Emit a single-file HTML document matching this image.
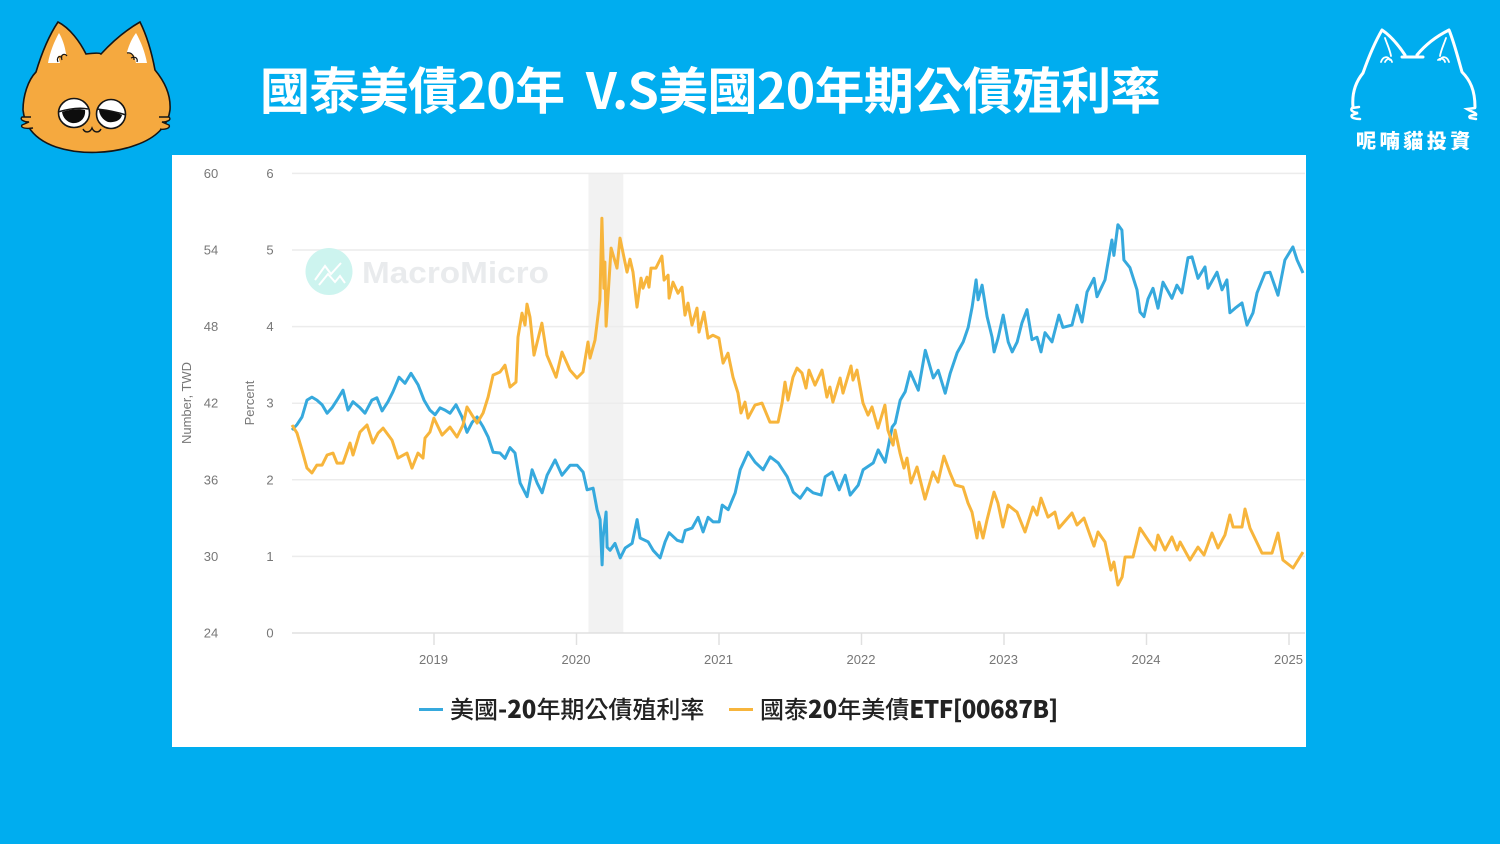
<!DOCTYPE html>
<html lang="zh-Hant">
<head>
<meta charset="utf-8">
<title>國泰美債20年 V.S美國20年期公債殖利率</title>
<style>
html,body{margin:0;padding:0;}
body{width:1500px;height:844px;overflow:hidden;background:#00adef;position:relative;font-family:"Liberation Sans","Noto Sans CJK TC",sans-serif;}
#panel{position:absolute;left:172px;top:155px;width:1134px;height:592px;background:#fff;}
#chart{position:absolute;left:0;top:0;}
#title{position:absolute;left:260px;top:52px;white-space:pre;color:#fff;font:700 50px/72px "Noto Sans CJK TC",sans-serif;letter-spacing:-0.65px;}
.legend{position:absolute;top:691px;height:34px;font:500 24px/34px "Noto Sans CJK TC",sans-serif;color:#222;white-space:pre;}
.legend b{font-weight:900;}
.legend b.tight{letter-spacing:-0.5px;}
.swatch{position:absolute;top:708px;height:3px;width:24px;}
#brand{position:absolute;left:1356px;top:125px;color:#fff;font:900 20px/30px "Noto Sans CJK TC",sans-serif;letter-spacing:3.6px;white-space:pre;}
</style>
</head>
<body>
<svg style="position:absolute;left:0;top:0" width="200" height="160" viewBox="0 0 200 160">
  <path d="M36 72C42 52 50 34 58 22C70 28 80 42 86 54C94 53 100 53 101 54C112 42 126 30 140 22C147 36 152 54 155 70C165 82 171 96 170 110C168 126 156 138 136 145C112 154 80 155 56 147C36 140 25 128 23 110C23 96 28 80 36 72Z" fill="#f5a93f" stroke="#151515" stroke-width="1.6"/>
  <path d="M59 33C54 42 50 52 48 63L60 63L58 56L66 54C65 46 62 38 59 33Z" fill="#fff"/>
  <path d="M136 33C141 42 145 52 147 63L136 63L134 55L127 52C129 45 132 38 136 33Z" fill="#fff"/>
  <path d="M58 62C56 57 60 55 62 58M62 60C60 54 65 53 67 56M127 53C131 52 134 55 134 60M131 58C135 56 138 58 137 62" fill="none" stroke="#151515" stroke-width="1.2"/>
  <ellipse cx="74" cy="113" rx="15.500" ry="14.500" fill="#fff" stroke="#151515" stroke-width="1.6"/>
  <ellipse cx="111" cy="114" rx="14.500" ry="14.500" fill="#fff" stroke="#151515" stroke-width="1.6"/>
  <path d="M62 112C68 110 78 108 85 110C86 118 80 124 72 123C67 122 63 118 62 112Z" fill="#0d0d0d"/>
  <path d="M99 109C106 110 116 112 122 115C121 120 115 123 108 122C103 120 99 115 99 109Z" fill="#0d0d0d"/>
  <path d="M58 112C68 109 78 107 88 109M97 109C106 110 117 112 126 115" fill="none" stroke="#151515" stroke-width="1.6"/>
  <path d="M83 129C85 133 90 133 92 128C94 133 99 133 101 129" fill="none" stroke="#151515" stroke-width="1.4"/>
  <path d="M31 117L22 117C19 120 25 122 29 122L22 125C20 128 26 129 33 128M159 117L169 117C172 120 167 122 162 122L169 125C171 128 165 130 160 129" fill="#f5a93f" stroke="#151515" stroke-width="1.4"/>
</svg>
<div id="title">國泰美債20年  V.S美國20年期公債殖利率</div>
<svg style="position:absolute;left:1340px;top:20px" width="150" height="110" viewBox="1340 20 150 110">
  <path d="M1353 107C1352 96 1354 84 1363 73C1369 56 1375 42 1382 30C1391 36 1399 46 1405 55M1402 57L1423 57M1417 55C1426 44 1437 36 1449 30C1454 42 1458 58 1462 72C1470 80 1475 90 1475 107" fill="none" stroke="#fff" stroke-width="3" stroke-linecap="round" stroke-linejoin="round"/>
  <path d="M1385 38C1387 44 1390 50 1391 56M1381 62C1383 56 1388 56 1390 60M1385 62C1387 58 1391 58 1392 62M1446 38C1444 44 1441 50 1440 56M1440 60C1442 56 1447 56 1449 62M1438 60C1440 58 1444 58 1445 62" fill="none" stroke="#fff" stroke-width="1.800" stroke-linecap="round"/>
  <path d="M1352 108L1359 107M1352 108C1349 112 1358 113 1358 113L1352 115C1350 118 1356 119 1360 119M1475 108L1467 109C1472 112 1477 113 1476 115C1471 115 1468 116 1470 118L1476 119" fill="none" stroke="#fff" stroke-width="2.500" stroke-linecap="round"/>
</svg>
<div id="brand">呢喃貓投資</div>
<div id="panel">
  <svg id="chart" width="1134" height="592" viewBox="172 155 1134 592" xmlns="http://www.w3.org/2000/svg">
    <g id="band-layer"></g>
    <g id="grid-layer"></g>
    <g>
      <circle cx="329" cy="271.500" r="23.500" fill="#cdf4ef"/>
      <path d="M315 280L325 266L331 274L341 263M319 285L328 274L335 282L340 276L345 283" fill="none" stroke="#fff" stroke-width="2"/>
      <text x="362" y="283" font-family="'Liberation Sans',sans-serif" font-weight="700" font-size="31" fill="#e9ebed" textLength="187" lengthAdjust="spacingAndGlyphs">MacroMicro</text>
    </g>
    <g id="axis-layer"></g>
    <g id="series-layer"></g>
  </svg>
</div>
<div class="swatch" style="left:419px;background:#36a9dd"></div>
<div class="legend" style="left:450px">美國<b>-20</b>年期公債殖利率</div>
<div class="swatch" style="left:729px;background:#f7b53c"></div>
<div class="legend" style="left:760px">國泰<b>20</b>年美債<b class="tight">ETF[00687B]</b></div>
<script>
const yearLabels = [2019, 2020, 2021, 2022, 2023, 2024, 2025];
const percentTicks = [0, 1, 2, 3, 4, 5, 6];
const twdTicks = [24, 30, 36, 42, 48, 54, 60];
const recessionYears = [2.08, 2.325];

const yieldYears = [
0.000,0.035,0.070,0.105,0.140,0.175,0.211,0.246,0.281,0.316,
0.358,0.393,0.428,0.477,0.512,0.561,0.596,0.632,0.674,0.709,
0.751,0.793,0.835,0.885,0.926,0.968,1.004,1.039,1.074,1.109,
1.151,1.193,1.228,1.264,1.299,1.341,1.376,1.411,1.460,1.495,
1.530,1.565,1.601,1.650,1.685,1.720,1.755,1.790,1.846,1.895,
1.952,2.001,2.043,2.071,2.113,2.141,2.162,2.176,2.183,2.204,
2.211,2.232,2.267,2.303,2.338,2.387,2.422,2.443,2.499,2.534,
2.583,2.618,2.646,2.703,2.738,2.759,2.808,2.850,2.885,2.920,
2.955,2.998,3.019,3.061,3.110,3.145,3.201,3.250,3.306,3.356,
3.412,3.475,3.517,3.566,3.615,3.657,3.714,3.742,3.791,3.840,
3.882,3.917,3.973,4.008,4.079,4.114,4.163,4.212,4.233,4.268,
4.303,4.338,4.395,4.444,4.500,4.535,4.584,4.619,4.668,4.710,
4.745,4.773,4.801,4.815,4.843,4.878,4.913,4.927,4.955,4.991,
5.026,5.054,5.089,5.123,5.158,5.193,5.228,5.256,5.284,5.333,
5.382,5.410,5.474,5.509,5.544,5.579,5.628,5.649,5.705,5.754,
5.768,5.796,5.824,5.838,5.880,5.930,5.951,5.979,6.007,6.042,
6.077,6.112,6.175,6.210,6.245,6.288,6.316,6.358,6.407,6.428,
6.491,6.526,6.561,6.582,6.618,6.667,6.702,6.744,6.772,6.828,
6.863,6.919,6.968,7.024,7.053,7.095];
const yieldValues = [
2.65,2.72,2.82,3.04,3.08,3.04,2.98,2.87,2.94,3.04,
3.17,2.91,3.02,2.94,2.87,3.04,3.07,2.90,3.02,3.15,
3.34,3.26,3.39,3.24,3.04,2.91,2.85,2.94,2.91,2.87,
2.98,2.82,2.62,2.75,2.82,2.69,2.56,2.36,2.35,2.28,
2.42,2.35,1.96,1.78,2.13,1.96,1.83,2.06,2.26,2.06,
2.19,2.19,2.10,1.87,1.89,1.61,1.48,0.89,1.25,1.58,
1.12,1.08,1.17,0.98,1.11,1.17,1.48,1.24,1.19,1.08,
0.98,1.19,1.31,1.21,1.19,1.34,1.37,1.51,1.32,1.51,
1.45,1.45,1.67,1.61,1.83,2.13,2.36,2.23,2.13,2.30,
2.22,2.04,1.84,1.76,1.89,1.83,1.80,2.04,2.10,1.87,
2.06,1.80,1.93,2.13,2.22,2.39,2.23,2.69,2.74,3.04,
3.15,3.41,3.17,3.69,3.33,3.43,3.13,3.39,3.66,3.80,
3.99,4.26,4.61,4.35,4.54,4.13,3.86,3.67,3.85,4.15,
3.80,3.67,3.80,4.05,4.22,3.83,3.86,3.67,3.92,3.80,
4.15,3.99,4.02,4.28,4.06,4.45,4.63,4.39,4.61,5.13,
4.93,5.33,5.26,4.87,4.77,4.48,4.19,4.13,4.36,4.50,
4.24,4.58,4.37,4.54,4.44,4.90,4.91,4.63,4.78,4.50,
4.71,4.48,4.61,4.18,4.24,4.31,4.02,4.18,4.44,4.70,
4.71,4.41,4.87,5.04,4.87,4.70];

const etfYears = [
0.000,0.035,0.070,0.105,0.140,0.175,0.211,0.246,0.288,0.316,
0.358,0.407,0.428,0.477,0.526,0.568,0.604,0.639,0.702,0.744,
0.807,0.842,0.884,0.919,0.933,0.968,0.996,1.053,1.109,1.158,
1.200,1.228,1.263,1.299,1.341,1.376,1.411,1.460,1.495,1.530,
1.572,1.586,1.614,1.635,1.649,1.670,1.698,1.754,1.789,1.853,
1.895,1.951,2.000,2.042,2.077,2.091,2.126,2.161,2.175,2.189,
2.196,2.204,2.239,2.281,2.302,2.351,2.372,2.393,2.421,2.449,
2.463,2.491,2.505,2.519,2.554,2.596,2.611,2.639,2.646,2.674,
2.709,2.737,2.758,2.779,2.807,2.842,2.856,2.891,2.919,2.954,
2.996,3.025,3.060,3.095,3.130,3.151,3.179,3.200,3.249,3.298,
3.354,3.411,3.439,3.460,3.481,3.516,3.544,3.579,3.607,3.628,
3.670,3.719,3.754,3.775,3.796,3.846,3.867,3.923,3.937,3.965,
4.007,4.042,4.070,4.112,4.161,4.182,4.218,4.232,4.267,4.295,
4.316,4.344,4.386,4.442,4.498,4.533,4.575,4.618,4.653,4.709,
4.744,4.772,4.807,4.821,4.849,4.877,4.926,4.954,4.989,5.025,
5.088,5.144,5.200,5.228,5.256,5.305,5.354,5.382,5.474,5.509,
5.558,5.600,5.628,5.656,5.705,5.747,5.768,5.796,5.825,5.846,
5.902,5.951,6.021,6.056,6.077,6.126,6.175,6.211,6.232,6.302,
6.358,6.400,6.456,6.498,6.547,6.582,6.604,6.667,6.688,6.723,
6.807,6.877,6.919,6.954,7.025,7.095];
const etfValues = [
40.29,39.66,38.33,36.92,36.53,37.15,37.15,37.94,38.09,37.31,
37.31,38.88,37.94,39.74,40.29,38.88,39.66,40.05,39.11,37.70,
38.09,36.92,38.09,37.70,39.27,39.74,40.83,39.50,40.13,39.35,
40.29,41.70,41.07,40.44,41.23,42.48,44.20,44.44,44.98,43.26,
43.65,47.18,49.06,48.12,49.76,48.74,45.77,48.27,45.77,44.04,
46.00,44.59,43.97,44.44,46.79,45.53,46.94,50.07,56.49,51.01,
53.05,48.04,54.15,52.58,54.93,52.27,53.28,52.27,49.53,51.80,
51.01,51.87,51.09,52.58,52.58,53.52,51.64,52.03,50.23,51.48,
50.62,51.09,48.90,49.84,48.12,49.45,47.57,49.13,47.10,47.33,
47.10,45.14,45.92,44.04,42.79,41.23,42.09,40.83,41.85,42.01,
40.52,40.52,42.01,43.65,42.24,44.04,44.75,44.36,43.18,44.59,
43.42,44.59,42.48,43.26,42.09,43.97,42.79,44.91,43.81,44.59,
42.01,41.07,41.70,40.05,41.85,39.89,38.72,39.89,38.09,36.92,
37.70,35.75,37.00,34.49,36.61,35.82,37.86,36.53,35.59,35.43,
34.18,33.47,31.44,32.69,31.44,32.85,35.04,34.18,32.30,34.02,
33.47,31.91,33.87,33.24,34.57,33.08,33.47,32.22,33.40,32.46,
33.00,31.67,30.81,31.91,31.13,28.93,29.56,27.76,28.38,29.95,
29.95,32.22,31.05,30.50,31.67,30.50,31.52,30.50,31.13,29.72,
30.73,30.11,31.83,30.66,31.67,33.24,32.30,32.30,33.71,32.22,
30.26,30.26,31.83,29.72,29.09,30.34];

const SVG_NS = 'http://www.w3.org/2000/svg';
function xScale(t) { return 292 + t * 142.5; }
function yPercent(p) { return 633 - p * 76.6; }
function yTwd(v) { return 633 - (v - 24) * 76.6 / 6; }
function makeEl(tag, attrs, parent) {
  const el = document.createElementNS(SVG_NS, tag);
  for (const k in attrs) el.setAttribute(k, attrs[k]);
  parent.appendChild(el);
  return el;
}
const band = document.getElementById('band-layer');
const grid = document.getElementById('grid-layer');
const axis = document.getElementById('axis-layer');
const series = document.getElementById('series-layer');
const labelStyle = {'font-family': '"Liberation Sans",sans-serif', 'font-size': 13, fill: '#777777'};

const recession = makeEl('rect', {x: xScale(recessionYears[0]), y: 174, width: xScale(recessionYears[1]) - xScale(recessionYears[0]), height: 459, fill: '#f2f2f2'}, band);



percentTicks.forEach(function (p, i) {
  const line = makeEl('line', {x1: 292, x2: 1305, y1: yPercent(p), y2: yPercent(p), stroke: p === 0 ? '#e0e0e0' : '#ececec', 'stroke-width': 1.5}, grid);
  
  
  const r = makeEl('text', Object.assign({x: 270, y: yPercent(p) + 4.5, 'text-anchor': 'middle'}, labelStyle), axis);
  r.textContent = p;
  
  
  const l = makeEl('text', Object.assign({x: 211, y: yTwd(twdTicks[i]) + 4.5, 'text-anchor': 'middle'}, labelStyle), axis);
  l.textContent = twdTicks[i];
  
  
});

yearLabels.forEach(function (yr) {
  const x = xScale(yr - 2018) - 0.5;
  const t = makeEl('line', {x1: x, x2: x, y1: 633, y2: 645, stroke: '#e0e0e0', 'stroke-width': 1.5}, axis);
  
  
  const lb = makeEl('text', Object.assign({x: x - 0.5, y: 664, 'text-anchor': 'middle'}, labelStyle), axis);
  lb.textContent = yr;
  
  
});

const leftTitle = makeEl('text', Object.assign({transform: 'translate(191,403) rotate(-90)', 'text-anchor': 'middle'}, labelStyle), axis);
leftTitle.textContent = 'Number, TWD';


const rightTitle = makeEl('text', Object.assign({transform: 'translate(254,403) rotate(-90)', 'text-anchor': 'middle'}, labelStyle), axis);
rightTitle.textContent = 'Percent';



function pathFrom(xs, ys, yFn) {
  return xs.map(function (t, i) { return (i ? 'L' : 'M') + xScale(t).toFixed(1) + ' ' + yFn(ys[i]).toFixed(1); }).join('');
}
const yieldLine = makeEl('path', {d: pathFrom(yieldYears, yieldValues, yPercent), fill: 'none', stroke: '#36a9dd', 'stroke-width': 3, 'stroke-linejoin': 'round'}, series);


const etfLine = makeEl('path', {d: pathFrom(etfYears, etfValues, yTwd), fill: 'none', stroke: '#f7b53c', 'stroke-width': 3, 'stroke-linejoin': 'round'}, series);


</script>
</body>
</html>
